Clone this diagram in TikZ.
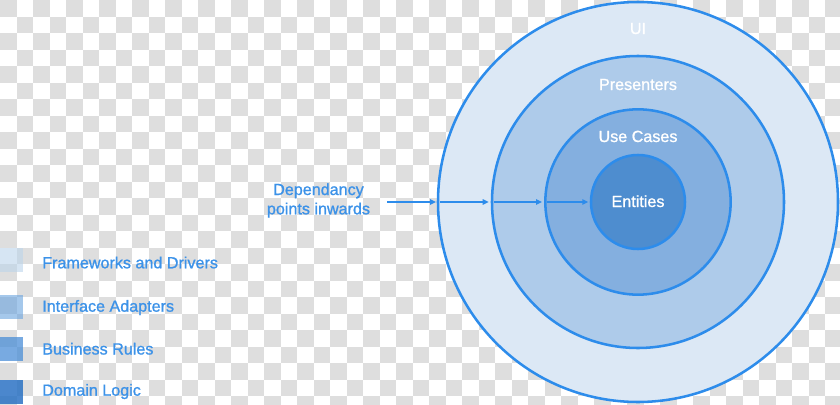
\documentclass[tikz,border=0pt]{standalone}
\usepackage{fontspec}
\setmainfont{Liberation Sans}
\newfontfamily\labelfamily{Liberation Sans}[FakeBold=1.1]
\usetikzlibrary{arrows.meta, positioning}
\definecolor{checkgray}{RGB}{222, 222, 222}
\definecolor{ringblue}{RGB}{45, 140, 235}
\definecolor{labelblue}{RGB}{60, 146, 232}
\definecolor{uifill}{RGB}{220, 232, 245}
\definecolor{presfill}{RGB}{174, 203, 234}
\definecolor{usefill}{RGB}{132, 175, 223}
\definecolor{entfill}{RGB}{78, 141, 207}
\definecolor{legfw}{RGB}{187, 212, 235}
\definecolor{legia}{RGB}{105, 163, 222}
\definecolor{legbr}{RGB}{75, 142, 215}
\definecolor{legdl}{RGB}{43, 114, 196}
\def\labelfont{\labelfamily\fontsize{12.1}{14}\selectfont}

\begin{document}
\begin{tikzpicture}[x=0.75pt, y=-0.75pt,
    ring/.style={circle, draw=ringblue, line width=1.9pt, inner sep=0pt},
    ringlabel/.style={text=white, anchor=base, font=\labelfont},
    bluetext/.style={text=labelblue, font=\labelfont, inner sep=0pt},
    legbox/.style={rectangle, minimum size=18pt, inner sep=0pt},
    deparrow/.style={-{Triangle[length=4.5pt, width=4pt]}, line width=1.5pt, ringblue}]
    \useasboundingbox (0, 0) rectangle (840, 404);

    % ----------------------------------------------------
    % Transparency checkerboard
    % ----------------------------------------------------
    \begin{scope}
        \clip (0, 0) rectangle (840, 404);
        \foreach \i in {0,...,50}{
            \foreach \j in {0,...,24}{
                \pgfmathtruncatemacro{\k}{mod(\i+\j,2)}
                \ifnum\k=0
                    \fill[checkgray] (\i*16.5, \j*16.5) rectangle ++(16.5, 16.5);
                \fi
            }
        }
    \end{scope}

    % ----------------------------------------------------
    % Rings of the architecture
    % ----------------------------------------------------
    \node[ring, fill=uifill, minimum size=300pt] (ui) at (638, 202) {};
    \node[ring, fill=presfill, minimum size=219pt] (pres) at (638, 202) {};
    \node[ring, fill=usefill, minimum size=139pt] (use) at (638, 202) {};
    \node[ring, fill=entfill, minimum size=70.5pt] (ent) at (638, 202) {};

    \node[ringlabel] (uilabel) at (638, 34) {UI};
    \node[ringlabel] (preslabel) at (638, 90) {Presenters};
    \node[ringlabel] (uselabel) at (638, 142) {Use Cases};
    \node[ringlabel] (entlabel) at (638, 207) {Entities};

    % ----------------------------------------------------
    % Dependency arrows
    % ----------------------------------------------------
    \node[bluetext, anchor=base] (deptop) at (318.5, 195) {Dependancy};
    \node[bluetext, anchor=base] (depbot) at (318.5, 214.3) {points inwards};
    \coordinate (depstart) at (387, 202);

    \draw[deparrow, shorten >=0.5pt] (depstart) -- (ui.west);
    \draw[deparrow, shorten <=2.5pt, shorten >=1.5pt] (ui.west) -- (pres.west);
    \draw[deparrow, shorten <=2.5pt, shorten >=1.5pt] (pres.west) -- (use.west);
    \draw[deparrow, shorten <=2.5pt, shorten >=1pt] (use.west) -- (ent.west);

    % ----------------------------------------------------
    % Legend
    % ----------------------------------------------------
    \node[legbox, fill=legfw, fill opacity=0.6] (boxfw) at (11, 260.3) {};
    \node[legbox, fill=legia, fill opacity=0.6] (boxia) at (11, 306.7) {};
    \node[legbox, fill=legbr, fill opacity=0.75] (boxbr) at (11, 349.2) {};
    \node[legbox, fill=legdl, fill opacity=0.85] (boxdl) at (11, 392) {};

    \node[bluetext, anchor=base west] (legfwtext) at (42, 268.3) {Frameworks and Drivers};
    \node[bluetext, anchor=base west] (legiatext) at (42, 311.7) {Interface Adapters};
    \node[bluetext, anchor=base west] (legbrtext) at (42, 354.5) {Business Rules};
    \node[bluetext, anchor=base west] (legdltext) at (42, 395.7) {Domain Logic};

\end{tikzpicture}
\end{document}
